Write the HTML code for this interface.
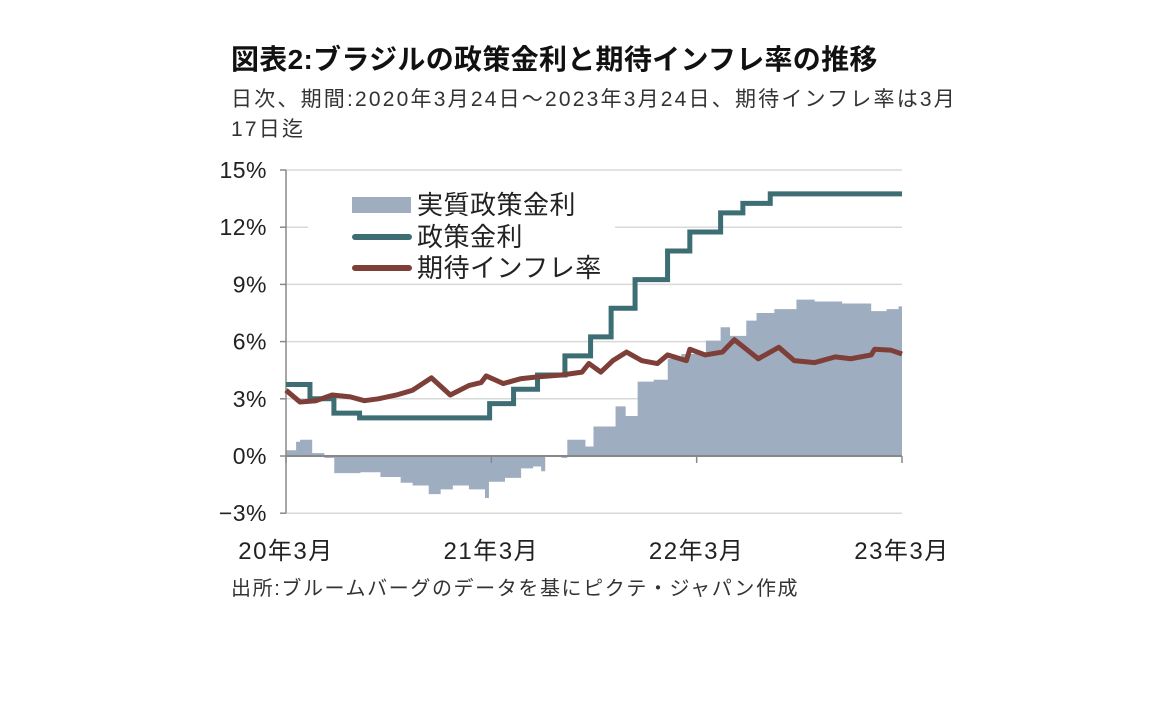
<!DOCTYPE html>
<html><head><meta charset="utf-8"><style>
body{margin:0;background:#fff;width:1152px;height:720px;overflow:hidden;font-family:"Liberation Sans","Noto Sans CJK JP",sans-serif;}
.t{position:absolute;white-space:nowrap;color:#222}
</style></head><body>
<div class="t" style="left:231px;top:38px;font-size:28px;font-weight:bold;color:#111;letter-spacing:0.3px">図表2:ブラジルの政策金利と期待インフレ率の推移</div>
<div class="t" style="left:231px;top:85px;font-size:21px;color:#333;line-height:30px;letter-spacing:2.2px">日次、期間:2020年3月24日～2023年3月24日、期待インフレ率は3月<br>17日迄</div>
<div class="t" style="left:231px;top:572px;font-size:20px;color:#333;letter-spacing:1.6px">出所:ブルームバーグのデータを基にピクテ・ジャパン作成</div>
<svg id="chart" width="1152" height="720" style="position:absolute;left:0;top:0" font-family="Liberation Sans, Noto Sans CJK JP, sans-serif"></svg>
<script>
const yTicks=[15,12,9,6,3,0,-3];
const xLabels=["20年3月","21年3月","22年3月","23年3月"];
const xLabelMonths=[0,12,24,36];
const policyMonths=[0,1.4,2.8,4.3,11.9,13.3,14.7,16.3,17.8,19.0,20.4,22.3,23.6,25.4,26.7,28.3,36];
const policyValues=[3.75,3.0,2.25,2.0,2.75,3.5,4.25,5.25,6.25,7.75,9.25,10.75,11.75,12.75,13.25,13.75,13.75];
const inflMonths=[0,0.82,1.76,2.7,3.76,4.58,5.4,6.46,7.4,8.5,9.6,10.7,11.4,11.7,12.7,13.7,14.7,16.1,17.3,17.7,18.4,19.1,19.9,20.8,21.7,22.3,23.4,23.6,24.5,25.5,26.2,26.9,27.6,28.8,29.7,30.9,32.1,33.0,34.2,34.4,35.35,36];
const inflValues=[3.45,2.83,2.9,3.2,3.1,2.9,3.0,3.2,3.45,4.1,3.2,3.7,3.85,4.2,3.8,4.05,4.15,4.25,4.4,4.85,4.4,5.0,5.45,5.0,4.85,5.3,5.0,5.6,5.3,5.45,6.1,5.6,5.1,5.7,5.0,4.9,5.2,5.1,5.3,5.6,5.55,5.35];
const realMonths=[0,0.59,0.82,1.53,2.24,2.82,3.88,4.35,5.52,6.7,7.4,8.34,9.04,9.75,10.69,11.63,11.86,12.8,13.74,14.44,14.91,15.15,16.09,16.44,17.5,17.97,18.9,19.26,19.85,20.55,21.49,22.31,23.1,24.54,25.4,25.95,26.9,27.5,28.54,29.83,30.9,32.5,34.2,35.1,35.8];
const realValues=[0.3,0.75,0.85,0.15,-0.1,-0.9,-0.9,-0.85,-1.1,-1.4,-1.55,-2.0,-1.75,-1.55,-1.75,-2.2,-1.35,-1.15,-0.65,-0.55,-0.8,0.05,-0.1,0.85,0.5,1.55,1.55,2.6,2.1,3.9,4.0,5.1,5.35,6.05,6.75,6.3,7.1,7.5,7.7,8.2,8.1,8.0,7.6,7.7,7.85];

const NS="http://www.w3.org/2000/svg";
const svg=document.getElementById('chart');
const X0=286,X1=902,Y15=170,Y0=456;
const x=m=>X0+(X1-X0)*m/36;
const y=v=>Y0-(Y0-Y15)*v/15;
function mk(tag,attrs){const e=document.createElementNS(NS,tag);for(const k in attrs)e.setAttribute(k,attrs[k]);svg.appendChild(e);return e;}

yTicks.forEach(v=>{
  if(v!==0){const g=mk('line',{x1:X0,x2:X1,y1:y(v),y2:y(v),stroke:'#d9d9d9','stroke-width':1.5});
  
  }
  const tk=mk('line',{x1:X0-6,x2:X0,y1:y(v),y2:y(v),stroke:'#888','stroke-width':1.5});
  
  
  const t=mk('text',{x:267,y:y(v)+8,'text-anchor':'end','font-size':23,fill:'#222','letter-spacing':0.5});
  t.textContent=(v<0?'−'+(-v):v)+'%';
  
  
});
let d='M'+x(realMonths[0])+','+y(0);
for(let i=0;i<realMonths.length;i++){
  const xe=i<realMonths.length-1?x(realMonths[i+1]):x(36);
  d+=' L'+x(realMonths[i])+','+y(realValues[i])+' L'+xe+','+y(realValues[i]);
}
d+=' L'+x(36)+','+y(0)+' Z';
const area=mk('path',{d:d,fill:'#9fadc0'});


const ya=mk('line',{x1:X0,x2:X0,y1:Y15,y2:y(-3),stroke:'#888','stroke-width':1.5});


const xa=mk('line',{x1:X0,x2:X1,y1:Y0,y2:Y0,stroke:'#888','stroke-width':2});


xLabels.forEach((l,i)=>{
  const px=x(xLabelMonths[i]);
  const tk=mk('line',{x1:px,x2:px,y1:Y0,y2:Y0+7,stroke:'#888','stroke-width':1.5});
  
  
  const t=mk('text',{x:px,y:559,'text-anchor':'middle','font-size':24,fill:'#222','letter-spacing':1.5});
  t.textContent=l;
  
  
});
let p='M'+x(policyMonths[0])+','+y(policyValues[0]);
for(let i=1;i<policyMonths.length;i++){p+=' L'+x(policyMonths[i])+','+y(policyValues[i-1])+' L'+x(policyMonths[i])+','+y(policyValues[i]);}
const pl=mk('path',{d:p,fill:'none',stroke:'#3d6e74','stroke-width':5});


const ip=mk('polyline',{points:inflMonths.map((m,i)=>x(m)+','+y(inflValues[i])).join(' '),fill:'none',stroke:'#7d3f38','stroke-width':5,'stroke-linejoin':'round'});


const bg=mk('rect',{x:308,y:182,width:307,height:100,fill:'#fff'});


const lg=[["実質政策金利",'area','#9fadc0',205],["政策金利",'line','#3d6e74',237],["期待インフレ率",'line','#7d3f38',268]];
lg.forEach(r=>{
  let s;
  if(r[1]==='area'){s=mk('rect',{x:352,y:r[3]-8,width:59,height:16,fill:r[2]});}
  else{s=mk('line',{x1:355,x2:409,y1:r[3],y2:r[3],stroke:r[2],'stroke-width':6,'stroke-linecap':'round'});}
  
  
  const t=mk('text',{x:417,y:r[3]+9,'font-size':26,fill:'#222','letter-spacing':0.5});
  t.textContent=r[0];
  
  
});
</script>
</body></html>
